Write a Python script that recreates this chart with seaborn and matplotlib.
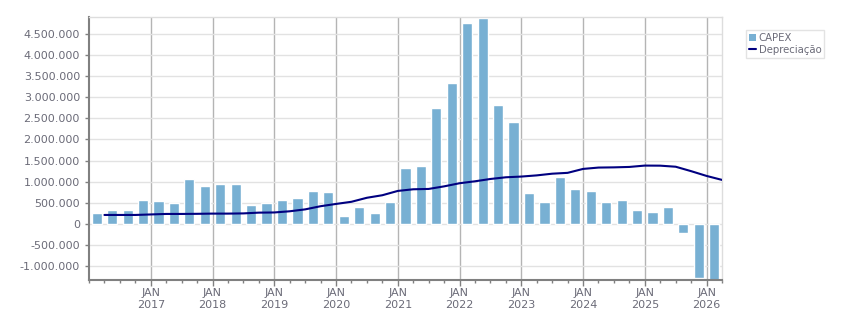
import numpy as np
import pandas as pd
import seaborn as sns
import matplotlib.pyplot as plt
from matplotlib.ticker import FuncFormatter, MultipleLocator
from matplotlib.patches import Patch
from matplotlib.lines import Line2D

# quarterly CAPEX, Q1 2016 .. Q1 2026 (in thousands)
quarters = [f"{y}Q{q}" for y in range(2016, 2026) for q in range(1, 5)] + ["2026Q1"]
capex_k = [
    270, 332, 332, 569,
    545, 498, 1066, 908,
    948, 948, 450, 498,
    569, 616, 782, 758,
    190, 403, 261, 521,
    1327, 1374, 2749, 3341,
    4763, 4882, 2820, 2417,
    735, 521, 1114, 829,
    782, 521, 569, 332,
    284, 403, -213, -1272,
    -1320,
]

# depreciation at quarter boundaries, Apr 2016 .. Apr 2026 (in thousands)
depr_k = [
    213, 213, 213, 225,
    237, 237, 240, 245,
    245, 250, 268, 272,
    300, 345, 420, 474,
    525, 620, 680, 782,
    821, 829, 890, 964,
    1010, 1065, 1105, 1122,
    1150, 1190, 1210, 1303,
    1335, 1340, 1350, 1382,
    1380, 1355, 1250, 1137,
    1043,
]

year_ticks = list(range(2017, 2027))

# numeric positions (decimal years)
bar_x = [int(s[:4]) + (int(s[-1]) - 1) * 0.25 + 0.125 for s in quarters]
line_x = [2016.25 + 0.25 * i for i in range(len(depr_k))]

df_bar = pd.DataFrame({"x": bar_x, "capex": np.array(capex_k) * 1000})
df_line = pd.DataFrame({"x": line_x, "depr": np.array(depr_k) * 1000})

sns.set_style("white")
plt.rcParams['font.family'] = ['DejaVu Sans']

fig = plt.figure(figsize=(8.51, 3.13), dpi=100)
ax = fig.add_axes([89 / 851, 1 - 280 / 313, (722 - 89) / 851, (280 - 17) / 313])

bar_color = "#78b0d3"
line_color = "#000080"

sns.barplot(data=df_bar, x="x", y="capex", native_scale=True, color=bar_color,
            saturation=1, width=0.66, ax=ax, zorder=2)
sns.lineplot(data=df_line, x="x", y="depr", color=line_color, linewidth=1.5,
             ax=ax, zorder=3)

ax.set_xlim(2016.0, 2026.25)
ax.set_ylim(-1327000, 4900000)

ax.yaxis.set_major_locator(MultipleLocator(500000))
ax.yaxis.set_major_formatter(FuncFormatter(lambda v, p: f"{int(round(v)):,}".replace(",", ".")))
ax.set_xticks(year_ticks)
ax.set_xticklabels([f"JAN\n{y}" for y in year_ticks])
ax.xaxis.set_minor_locator(MultipleLocator(0.25))

ax.grid(axis="y", color="#e2e2e2", linewidth=1, zorder=0)
ax.grid(axis="x", which="major", color="#b4b4b4", linewidth=1, zorder=1)
ax.set_axisbelow(True)

for side in ["top", "right"]:
    ax.spines[side].set_color("#dddddd")
    ax.spines[side].set_linewidth(1)
for side in ["left", "bottom"]:
    ax.spines[side].set_color("#808080")
    ax.spines[side].set_linewidth(1.5)

ax.tick_params(axis="both", which="major", labelsize=8, labelcolor="#6b6b78",
               color="#808080", length=4, width=1, direction="out")
ax.tick_params(axis="x", which="minor", color="#808080", length=2.5, width=1, bottom=True)
ax.tick_params(axis="x", which="major", bottom=True, pad=2)
ax.tick_params(axis="y", which="major", left=True, length=3)
ax.set_xlabel("")
ax.set_ylabel("")

handles = [Patch(facecolor=bar_color, edgecolor="none"),
           Line2D([0], [0], color=line_color, linewidth=1.5)]
leg = fig.legend(handles, ["CAPEX", "Depreciação"], loc="upper left",
                 bbox_to_anchor=(746 / 851, 1 - 30 / 313), fontsize=7.3,
                 frameon=True, fancybox=False, handlelength=0.7, handleheight=0.8,
                 handletextpad=0.25, borderpad=0.3, labelspacing=0.15,
                 borderaxespad=0)
leg.get_frame().set_edgecolor("#dddddd")
leg.get_frame().set_linewidth(1)
for t in leg.get_texts():
    t.set_color("#6b6b78")

fig.savefig("out.png", dpi=100)
